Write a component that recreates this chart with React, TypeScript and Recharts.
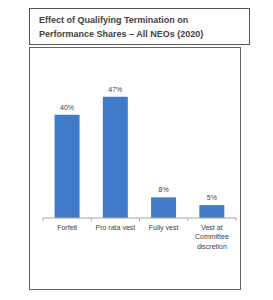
import React from "react";
import { Bar, BarChart, LabelList, XAxis, YAxis } from "recharts";

const categories = ["Forfeit", "Pro rata vest", "Fully vest", "Vest at Committee discretion"];
const categoryLines = [["Forfeit"], ["Pro rata vest"], ["Fully vest"], ["Vest at", "Committee", "discretion"]];
const shares = [40, 47, 8, 5];

const data = categories.map((name, i) => ({ name, value: shares[i], lines: categoryLines[i] }));

const textColor = "#404040";
const barColor = "#3f7bc9";
const font = "'Liberation Sans', Arial, sans-serif";

const CategoryTick = (props: any) => {
  const { x, y, payload, index, visibleTicksCount } = props;
  const half = 193 / 4 / 2;
  const lines = categoryLines[index] ?? [payload.value];
  return (
    <g>
      <line x1={x - half} x2={x - half} y1={y - 8} y2={y - 5} stroke="#a6a6a6" />
      {index === visibleTicksCount - 1 && (
        <line x1={x + half} x2={x + half} y1={y - 8} y2={y - 5} stroke="#a6a6a6" />
      )}
      <text x={x} y={y + 3.5} textAnchor="middle" fontSize={7} fill={textColor} fontFamily={font}>
        {lines.map((l: string, i: number) => (
          <tspan key={i} x={x} dy={i === 0 ? 0 : 9.7}>
            {l}
          </tspan>
        ))}
      </text>
    </g>
  );
};

const App = () => {
  return (
    <div style={{ position: "absolute", left: 0, top: 0, width: 273, height: 300, background: "#fff" }}>
      <div
        style={{
          position: "absolute",
          left: 29,
          top: 8,
          width: 210,
          height: 33,
          border: "1.5px solid #555",
          fontFamily: font,
          fontWeight: "bold",
          fontSize: 9,
          lineHeight: "13.6px",
          color: textColor,
          paddingTop: 2,
          paddingLeft: 9,
          boxSizing: "content-box",
        }}
      >
        <div style={{ position: "absolute", left: 9, top: 5 }}>
          Effect of Qualifying Termination on
          <br />
          Performance Shares – All NEOs (2020)
        </div>
      </div>
      <div
        style={{
          position: "absolute",
          left: 29,
          top: 47,
          width: 210,
          height: 241,
          border: "1.5px solid #62646f",
        }}
      />
      <div style={{ position: "absolute", left: 30, top: 48 }}>
        <BarChart
          width={211}
          height={242}
          data={data}
          margin={{ top: 41, right: 5, left: 13, bottom: 0 }}
          barCategoryGap="24%"
        >
          <XAxis
            dataKey="name"
            height={72}
            interval={0}
            tickLine={false}
            axisLine={{ stroke: "#a6a6a6" }}
            tick={<CategoryTick />}
          />
          <YAxis hide domain={[0, 50]} />
          <Bar dataKey="value" fill={barColor} isAnimationActive={false}>
            <LabelList
              dataKey="value"
              position="top"
              offset={5}
              formatter={(v: any) => `${v}%`}
              style={{ fontSize: 7, fill: textColor, fontFamily: font }}
            />
          </Bar>
        </BarChart>
      </div>
    </div>
  );
};

export default App;
